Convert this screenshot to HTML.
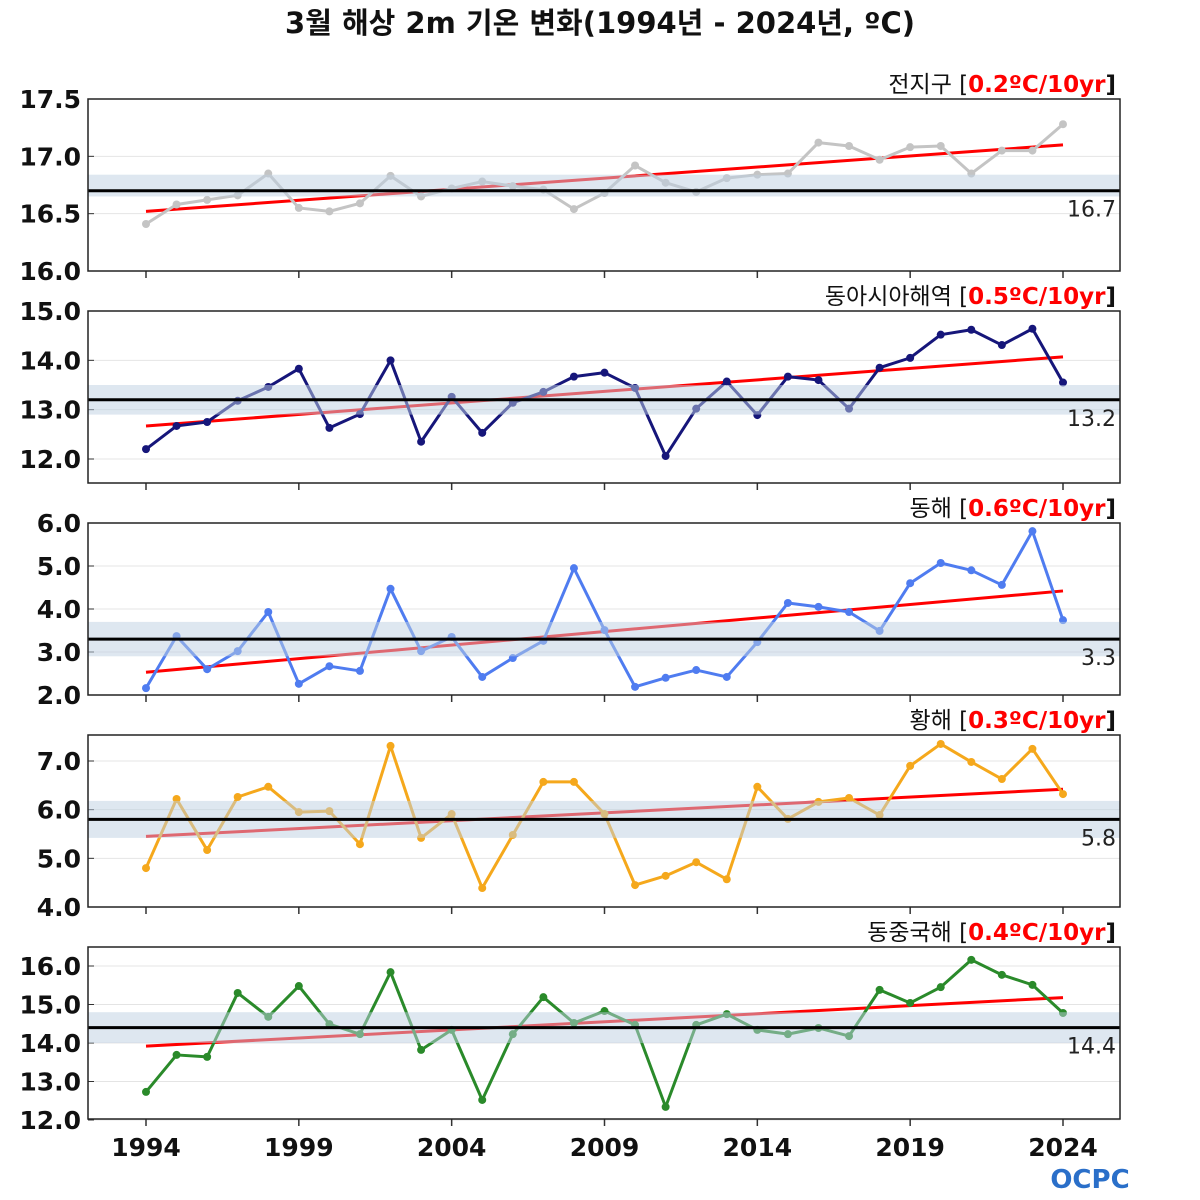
<!DOCTYPE html>
<html><head><meta charset="utf-8">
<style>
body{margin:0;background:#fff;}
svg{display:block;font-family:"DejaVu Sans","Noto Sans CJK KR",sans-serif;}
</style></head>
<body>
<svg id="chart" width="1200" height="1200" viewBox="0 0 1200 1200">
<text x="600" y="33" text-anchor="middle" font-size="29" font-weight="bold" fill="#111">3월 해상 2m 기온 변화(1994년 - 2024년, ºC)</text>
<g><text x="1090" y="1188" text-anchor="middle" font-size="26" font-weight="bold" fill="#2a6fc9">OCPC</text></g>
</svg>
<script>
const years = [1994,1995,1996,1997,1998,1999,2000,2001,2002,2003,2004,2005,2006,2007,2008,2009,2010,2011,2012,2013,2014,2015,2016,2017,2018,2019,2020,2021,2022,2023,2024];
const xTickYears = [1994,1999,2004,2009,2014,2019,2024];
const globalVals = [16.41,16.58,16.62,16.66,16.85,16.55,16.52,16.59,16.83,16.65,16.72,16.78,16.74,16.71,16.54,16.68,16.92,16.77,16.69,16.81,16.84,16.85,17.12,17.09,16.97,17.08,17.09,16.85,17.05,17.05,17.28];
const eastAsiaVals = [12.2,12.67,12.75,13.18,13.46,13.83,12.63,12.91,14.0,12.35,13.26,12.53,13.14,13.36,13.67,13.75,13.44,12.06,13.02,13.57,12.89,13.67,13.6,13.02,13.85,14.05,14.52,14.62,14.31,14.64,13.55];
const eastSeaVals = [2.16,3.37,2.6,3.02,3.93,2.26,2.67,2.56,4.47,3.02,3.35,2.42,2.86,3.26,4.95,3.51,2.19,2.4,2.58,2.42,3.23,4.14,4.05,3.93,3.49,4.6,5.07,4.9,4.56,5.81,3.74];
const yellowSeaVals = [4.8,6.22,5.17,6.26,6.47,5.95,5.97,5.29,7.31,5.42,5.91,4.39,5.48,6.57,6.57,5.91,4.45,4.64,4.92,4.57,6.47,5.81,6.16,6.24,5.89,6.9,7.35,6.98,6.63,7.25,6.32];
const eastChinaVals = [12.73,13.69,13.64,15.3,14.68,15.48,14.49,14.23,15.84,13.82,14.34,12.52,14.23,15.19,14.52,14.83,14.47,12.34,14.47,14.75,14.34,14.23,14.39,14.18,15.38,15.04,15.45,16.16,15.77,15.51,14.78];
const panelNames = ["전지구","동아시아해역","동해","황해","동중국해"];
const trendLabels = ["0.2ºC/10yr","0.5ºC/10yr","0.6ºC/10yr","0.3ºC/10yr","0.4ºC/10yr"];
const means = [16.7,13.2,3.3,5.8,14.4];
const bandTop = [16.84,13.5,3.7,6.18,14.8];
const bandBot = [16.65,12.9,2.9,5.42,14.0];
const trendStart = [16.52,12.67,2.53,5.45,13.92];
const trendEnd = [17.10,14.07,4.42,6.42,15.18];
const yTicks = [[16.0,16.5,17.0,17.5],[12.0,13.0,14.0,15.0],[2.0,3.0,4.0,5.0,6.0],[4.0,5.0,6.0,7.0],[12.0,13.0,14.0,15.0,16.0]];
const allVals = [globalVals,eastAsiaVals,eastSeaVals,yellowSeaVals,eastChinaVals];
const colors = ["#c4c4c4","#16167a","#4f7cf0","#f5a81c","#2a8a2a"];
const slugs = ["global","east-asia","east-sea","yellow-sea","east-china-sea"];

const NS="http://www.w3.org/2000/svg";
const svg=document.getElementById("chart");
const X0=88,X1=1120;
const panelTops=[99,311,523,735,947];
const PH=172;
const yPx=[[271,99],[459,311],[695,523],[907,761],[1120,966]];
const yVal=[[16.0,17.5],[12.0,15.0],[2.0,6.0],[4.0,7.0],[12.0,16.0]];
function x(yr){return 146+(yr-1994)*(1063-146)/30;}
function mk(tag,attrs,parent){const e=document.createElementNS(NS,tag);for(const k in attrs)e.setAttribute(k,attrs[k]);(parent||svg).appendChild(e);return e;}

for(let p=0;p<5;p++){
  const top=panelTops[p],bot=top+PH;
  const [pb,pt]=yPx[p],[vb,vt]=yVal[p];
  const y=v=>pb+(v-vb)*(pt-pb)/(vt-vb);
  const g=mk("g",{});
  
  
  mk("rect",{x:X0,y:top,width:X1-X0,height:PH,fill:"#fff"},g);
  yTicks[p].forEach(t=>{
    mk("line",{x1:X0,x2:X1,y1:y(t),y2:y(t),stroke:"#e4e4e4","stroke-width":1},g);
    mk("line",{x1:X0,x2:X0+6,y1:y(t),y2:y(t),stroke:"#333","stroke-width":1},g);
    const tl=mk("text",{x:X0-7,y:y(t)+9,"text-anchor":"end","font-size":25,"font-weight":"bold",fill:"#111"},g);
    tl.textContent=t.toFixed(1);
    
    
  });
  xTickYears.forEach(yr=>{
    mk("line",{x1:x(yr),x2:x(yr),y1:bot,y2:bot+7,stroke:"#333","stroke-width":1.5},g);
  });
  const tr=mk("line",{x1:x(1994),x2:x(2024),y1:y(trendStart[p]),y2:y(trendEnd[p]),stroke:"#ff0000","stroke-width":3},g);
  
  
  const vals=allVals[p];
  const pts=years.map((yr,i)=>x(yr)+","+y(vals[i])).join(" ");
  const pl=mk("polyline",{points:pts,fill:"none",stroke:colors[p],"stroke-width":3,"stroke-linejoin":"round"},g);
  
  
  years.forEach((yr,i)=>{
    const c=mk("circle",{cx:x(yr),cy:y(vals[i]),r:4,fill:colors[p]},g);
    
    
  });
  const band=mk("rect",{x:X0,y:y(bandTop[p]),width:X1-X0,height:y(bandBot[p])-y(bandTop[p]),fill:"rgba(190,208,226,0.5)"},g);
  
  
  const ml=mk("line",{x1:X0,x2:X1,y1:y(means[p]),y2:y(means[p]),stroke:"#000","stroke-width":3},g);
  
  
  const mt=mk("text",{x:X1-4,y:y(means[p])+26,"text-anchor":"end","font-size":22,fill:"#222"},g);
  mt.textContent=means[p].toFixed(1);
  
  
  mk("rect",{x:X0,y:top,width:X1-X0,height:PH,fill:"none",stroke:"#222","stroke-width":1.5},g);
  const tt=mk("text",{x:X1-4,y:top-7,"text-anchor":"end","font-size":23,"font-weight":"bold",fill:"#111"},g);
  
  
  const s1=mk("tspan",{"font-weight":"normal"},tt);s1.textContent=panelNames[p]+" [";
  const s2=mk("tspan",{fill:"#ff0000"},tt);s2.textContent=trendLabels[p];
  const s3=mk("tspan",{},tt);s3.textContent="]";
}
xTickYears.forEach(yr=>{
  const t=mk("text",{x:x(yr),y:1156,"text-anchor":"middle","font-size":25,"font-weight":"bold",fill:"#111"});
  t.textContent=yr;
  
  
});
</script>
</body></html>
